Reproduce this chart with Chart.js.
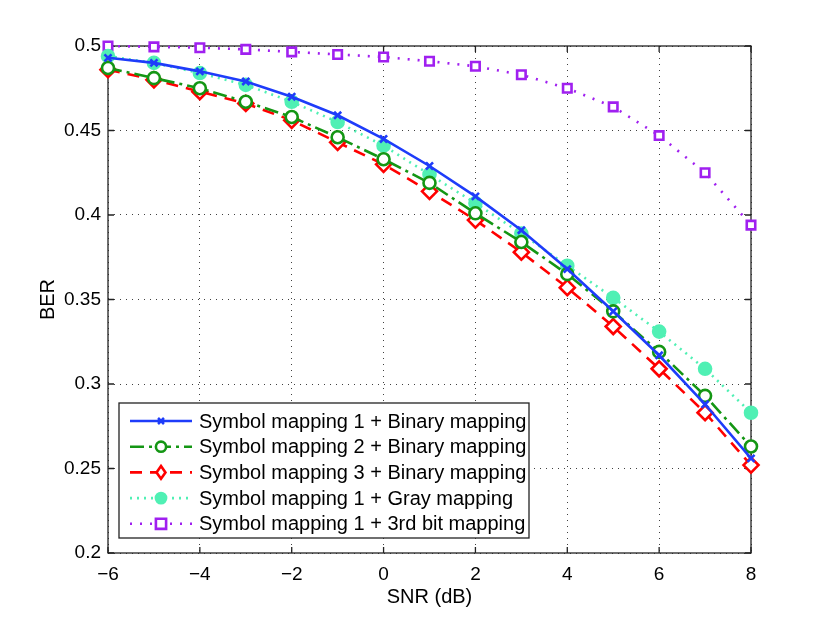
<!DOCTYPE html>
<html>
<head>
<meta charset="utf-8">
<script src="https://cdn.jsdelivr.net/npm/chart.js@4.4.1/dist/chart.umd.min.js"></script>
<style>
  html, body { margin: 0; padding: 0; background: #fff; }
  canvas { display: block; }
</style>
</head>
<body>
<canvas id="berChart" width="830" height="623"></canvas>
<script>
// SNR points (dB)
const snr = [-6, -5, -4, -3, -2, -1, 0, 1, 2, 3, 4, 5, 6, 7, 8];

// BER
const sym1Binary = [0.493, 0.490, 0.485, 0.479, 0.470, 0.459, 0.445, 0.429, 0.411, 0.391, 0.368, 0.343, 0.317, 0.288, 0.256];
const sym2Binary = [0.487, 0.481, 0.475, 0.467, 0.458, 0.446, 0.433, 0.419, 0.401, 0.384, 0.365, 0.343, 0.319, 0.293, 0.263];
const sym3Binary = [0.486, 0.480, 0.473, 0.466, 0.456, 0.443, 0.430, 0.414, 0.397, 0.378, 0.357, 0.334, 0.309, 0.283, 0.252];
const sym1Gray   = [0.494, 0.490, 0.484, 0.477, 0.467, 0.455, 0.441, 0.424, 0.407, 0.389, 0.370, 0.351, 0.331, 0.309, 0.283];
const sym1Third  = [0.500, 0.4995, 0.499, 0.498, 0.4965, 0.495, 0.4935, 0.491, 0.488, 0.483, 0.475, 0.464, 0.447, 0.425, 0.394];

const seriesNames = [
    'Symbol mapping 1 + Binary mapping',
    'Symbol mapping 2 + Binary mapping',
    'Symbol mapping 3 + Binary mapping',
    'Symbol mapping 1 + Gray mapping',
    'Symbol mapping 1 + 3rd bit mapping'
];

const xTicks = [-6, -4, -2, 0, 2, 4, 6, 8];
const yTicks = [0.2, 0.25, 0.3, 0.35, 0.4, 0.45, 0.5];

const FONT = "'Liberation Sans', Arial, Helvetica, sans-serif";

function pts(values) {
    return snr.map((x, i) => ({ x: x, y: values[i] }));
}

// legend / dataset styles
const styles = [
    { color: 'rgb(30,60,250)',  dash: [],            marker: 'crossRot', radius: 5,   fill: 'rgb(30,60,250)' },
    { color: 'rgb(20,150,20)',  dash: [14, 5, 3, 5], marker: 'circle',   radius: 6,   fill: '#fff' },
    { color: 'rgb(255,0,0)',    dash: [12, 8],       marker: 'rectRot',  radius: 7.5, fill: '#fff' },
    { color: 'rgb(80,240,180)', dash: [2, 5],        marker: 'circle',   radius: 6,   fill: 'rgb(80,240,180)' },
    { color: 'rgb(160,32,240)', dash: [2, 8],        marker: 'rect',     radius: 6,   fill: '#fff' }
];
const allSeries = [sym1Binary, sym2Binary, sym3Binary, sym1Gray, sym1Third];

// box round the plot, inward tick marks
const frame = {
    id: 'frame',
    beforeDatasetsDraw(chart) {
        const { ctx, chartArea: a, scales } = chart;
        ctx.save();
        ctx.strokeStyle = '#222';
        ctx.lineWidth = 1.3;
        ctx.setLineDash([]);
        ctx.strokeRect(a.left, a.top, a.right - a.left, a.bottom - a.top);
        ctx.beginPath();
        xTicks.forEach(v => {
            const px = scales.x.getPixelForValue(v);
            ctx.moveTo(px, a.bottom); ctx.lineTo(px, a.bottom - 6);
            ctx.moveTo(px, a.top); ctx.lineTo(px, a.top + 6);
        });
        yTicks.forEach(v => {
            const py = scales.y.getPixelForValue(v);
            ctx.moveTo(a.left, py); ctx.lineTo(a.left + 6, py);
            ctx.moveTo(a.right, py); ctx.lineTo(a.right - 6, py);
        });
        ctx.stroke();
        ctx.restore();
    }
};

function marker(ctx, st, x, y) {
    const r = st.radius;
    ctx.beginPath();
    if (st.marker === 'circle') {
        ctx.arc(x, y, r, 0, Math.PI * 2);
    } else if (st.marker === 'rect') {
        ctx.rect(x - r, y - r, 2 * r, 2 * r);
    } else if (st.marker === 'rectRot') {
        ctx.moveTo(x, y - r); ctx.lineTo(x + r * 0.7, y); ctx.lineTo(x, y + r); ctx.lineTo(x - r * 0.7, y); ctx.closePath();
    } else if (st.marker === 'crossRot') {
        const d = r * 0.7;
        ctx.moveTo(x - d, y - d); ctx.lineTo(x + d, y + d);
        ctx.moveTo(x + d, y - d); ctx.lineTo(x - d, y + d);
    }
    if (st.marker !== 'crossRot') {
        ctx.fillStyle = st.fill;
        ctx.fill();
    }
    ctx.stroke();
}

// legend box inside the axes, lower left
const boxLegend = {
    id: 'boxLegend',
    afterDraw(chart) {
        const { ctx, chartArea: a } = chart;
        const left = a.left + 11, top = a.top + 357, w = 410, h = 135;
        ctx.save();
        ctx.fillStyle = '#fff';
        ctx.fillRect(left, top, w, h);
        ctx.strokeStyle = '#222';
        ctx.lineWidth = 1.3;
        ctx.setLineDash([]);
        ctx.strokeRect(left, top, w, h);
        ctx.font = '20px ' + FONT;
        ctx.textBaseline = 'middle';
        ctx.textAlign = 'left';
        seriesNames.forEach((name, i) => {
            const st = styles[i];
            const y = top + 18 + i * 25.7;
            ctx.strokeStyle = st.color;
            ctx.lineWidth = 2.6;
            ctx.setLineDash(st.dash);
            ctx.beginPath();
            ctx.moveTo(left + 11, y); ctx.lineTo(left + 73, y);
            ctx.stroke();
            ctx.setLineDash([]);
            ctx.lineWidth = 2.6;
            marker(ctx, Object.assign({}, st, { radius: st.radius * 0.85 }), left + 42, y);
            ctx.fillStyle = '#000';
            ctx.fillText(name, left + 80, y + 1);
        });
        ctx.restore();
    }
};

const datasets = allSeries.map((vals, i) => ({
    label: seriesNames[i],
    data: pts(vals),
    borderColor: styles[i].color,
    backgroundColor: styles[i].fill,
    borderWidth: 2.6,
    borderDash: styles[i].dash,
    pointStyle: styles[i].marker,
    pointRadius: styles[i].radius,
    pointHoverRadius: styles[i].radius,
    pointBorderWidth: 2.6,
    pointBorderColor: styles[i].color,
    pointBackgroundColor: styles[i].fill,
    tension: 0,
    clip: false
}));

new Chart(document.getElementById('berChart'), {
    type: 'line',
    data: { datasets: datasets },
    options: {
        responsive: false,
        animation: false,
        layout: { padding: { left: 0, top: 46, right: 79, bottom: 0 } },
        plugins: { legend: { display: false }, tooltip: { enabled: false } },
        scales: {
            x: {
                type: 'linear',
                min: -6, max: 8,
                afterFit(scale) { scale.height = 70; },
                afterBuildTicks(scale) { scale.ticks = xTicks.map(v => ({ value: v })); },
                ticks: {
                    padding: 10,
                    color: '#000',
                    font: { family: FONT, size: 19 },
                    callback: v => (v < 0 ? '\u2212' + Math.abs(v) : String(v))
                },
                grid: { color: 'rgba(0,0,0,0.75)', lineWidth: 1, drawTicks: false },
                border: { display: false, dash: [1, 5] },
                title: {
                    display: true, text: 'SNR (dB)', color: '#000',
                    font: { family: FONT, size: 20 },
                    padding: { top: 0, bottom: 14 }
                }
            },
            y: {
                type: 'linear',
                min: 0.2, max: 0.5,
                afterFit(scale) { scale.width = 108; },
                afterBuildTicks(scale) { scale.ticks = yTicks.map(v => ({ value: v })); },
                ticks: {
                    padding: 7,
                    color: '#000',
                    font: { family: FONT, size: 19 },
                    callback: v => String(Number(v.toFixed(2)))
                },
                grid: { color: 'rgba(0,0,0,0.75)', lineWidth: 1, drawTicks: false },
                border: { display: false, dash: [1, 5] },
                title: {
                    display: true, text: 'BER', color: '#000',
                    font: { family: FONT, size: 20 },
                    padding: { top: 36, bottom: 0 }
                }
            }
        }
    },
    plugins: [frame, boxLegend]
});
</script>
</body>
</html>
